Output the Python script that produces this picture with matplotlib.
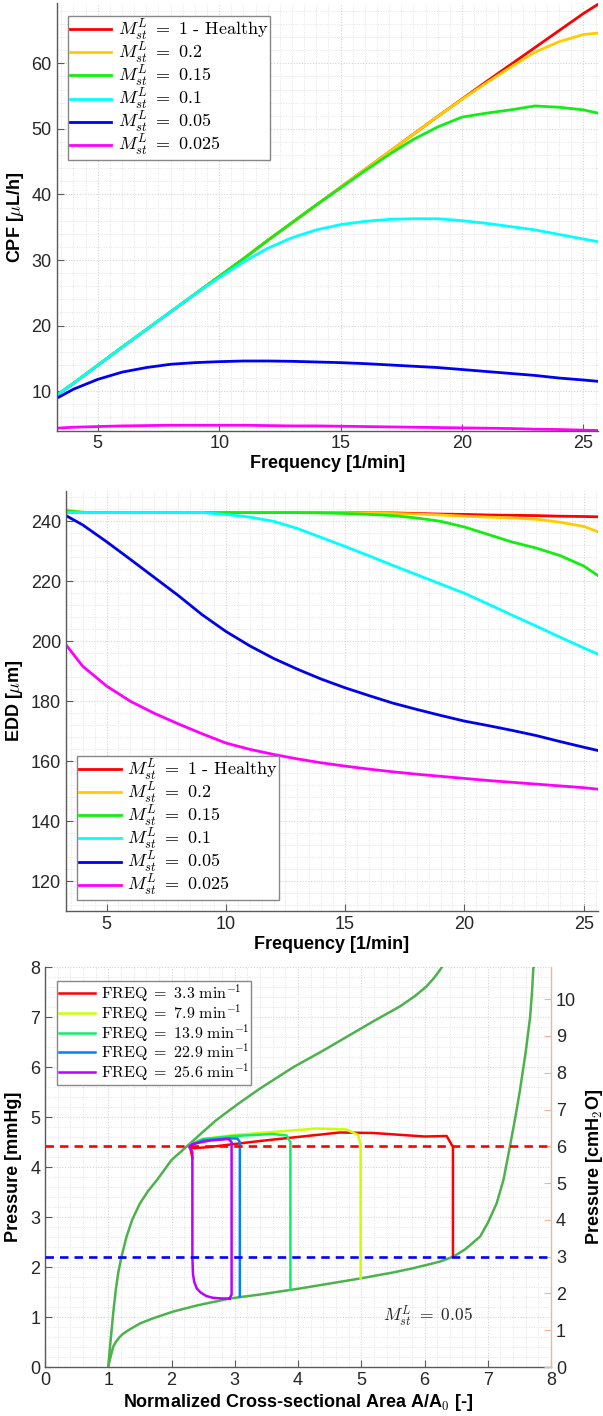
import matplotlib
matplotlib.use('Agg')
import matplotlib.pyplot as plt
from matplotlib.ticker import MultipleLocator

plt.rcParams['font.family'] = ['Liberation Sans', 'DejaVu Sans']
plt.rcParams['mathtext.fontset'] = 'cm'

# ---------------- data ----------------
freq = [3.3, 4, 5, 6, 7, 8, 9, 10, 11, 12, 13, 14, 15, 16, 17, 18, 19, 20, 21, 22, 23, 24, 25, 25.6]

series_labels = [r'$M_{st}^{L}\ =\ 1\ \text{- Healthy}$', r'$M_{st}^{L}\ =\ 0.2$', r'$M_{st}^{L}\ =\ 0.15$',
                 r'$M_{st}^{L}\ =\ 0.1$', r'$M_{st}^{L}\ =\ 0.05$', r'$M_{st}^{L}\ =\ 0.025$']
series_colors = ['#ff0000', '#ffcc00', '#11ee11', '#00ffff', '#0000f0', '#ff00ff']

cpf_healthy = [9.35, 11.2, 13.95, 16.7, 19.4, 22.1, 24.8, 27.5, 30.2, 33.0, 35.7, 38.4, 41.1, 43.8,
               46.5, 49.2, 51.9, 54.55, 57.2, 59.8, 62.4, 65.0, 67.6, 69.0]
cpf_02 = [9.35, 11.2, 13.95, 16.7, 19.4, 22.1, 24.8, 27.5, 30.2, 33.0, 35.7, 38.4, 41.1, 43.8,
          46.5, 49.2, 51.9, 54.5, 57.0, 59.4, 61.7, 63.3, 64.4, 64.6]
cpf_015 = [9.35, 11.2, 13.95, 16.7, 19.4, 22.1, 24.8, 27.5, 30.2, 33.0, 35.7, 38.4, 41.0, 43.6,
           46.1, 48.4, 50.3, 51.8, 52.4, 52.9, 53.5, 53.3, 52.9, 52.4]
cpf_01 = [9.35, 11.2, 13.95, 16.7, 19.4, 22.1, 24.8, 27.3, 29.7, 31.8, 33.4, 34.6, 35.4, 35.9,
          36.2, 36.3, 36.3, 36.0, 35.6, 35.1, 34.6, 33.9, 33.2, 32.8]
cpf_005 = [8.9, 10.3, 11.8, 12.9, 13.6, 14.1, 14.35, 14.5, 14.6, 14.6, 14.55, 14.45, 14.35, 14.2,
           14.0, 13.8, 13.6, 13.3, 13.0, 12.7, 12.4, 12.0, 11.7, 11.5]
cpf_0025 = [4.35, 4.5, 4.6, 4.7, 4.75, 4.8, 4.8, 4.8, 4.8, 4.75, 4.7, 4.7, 4.65, 4.6,
            4.55, 4.5, 4.45, 4.4, 4.35, 4.3, 4.2, 4.15, 4.05, 4.0]

edd_healthy = [242.9, 242.8, 242.8, 242.8, 242.8, 242.8, 242.8, 242.8, 242.8, 242.8, 242.8, 242.8, 242.8, 242.7,
               242.7, 242.5, 242.3, 242.2, 242.0, 241.9, 241.8, 241.6, 241.5, 241.4]
edd_02 = [243.8, 242.9, 242.8, 242.8, 242.8, 242.8, 242.8, 242.8, 242.8, 242.8, 242.8, 242.8, 242.8, 242.6,
          242.5, 242.3, 242.0, 241.6, 241.3, 241.0, 240.6, 239.6, 238.2, 236.4]
edd_015 = [243.3, 242.9, 242.8, 242.8, 242.8, 242.8, 242.8, 242.8, 242.8, 242.8, 242.8, 242.7, 242.5, 242.2,
           241.8, 241.0, 239.9, 238.0, 235.5, 233.0, 231.0, 228.5, 225.0, 221.8]
edd_01 = [242.8, 242.8, 242.8, 242.8, 242.8, 242.8, 242.8, 242.2, 241.3, 239.9, 237.5, 234.5, 231.5, 228.4,
          225.2, 222.1, 219.0, 215.9, 212.3, 208.6, 205.0, 201.3, 197.7, 195.6]
edd_005 = [241.8, 238.7, 233.1, 227.2, 221.2, 215.2, 208.8, 203.2, 198.4, 194.2, 190.6, 187.3, 184.4, 181.8,
           179.3, 177.2, 175.2, 173.3, 171.8, 170.2, 168.5, 166.5, 164.6, 163.5]
edd_0025 = [198.7, 191.6, 185.0, 179.9, 175.9, 172.4, 169.1, 166.0, 163.9, 162.2, 160.7, 159.4, 158.3, 157.3,
            156.4, 155.6, 154.9, 154.2, 153.5, 152.9, 152.3, 151.7, 151.1, 150.6]

cpf_series = [cpf_healthy, cpf_02, cpf_015, cpf_01, cpf_005, cpf_0025]
edd_series = [edd_healthy, edd_02, edd_015, edd_01, edd_005, edd_0025]

# tube law (green) curve: inflation and deflation branches
tube_up_area = [1.0, 1.02, 1.05, 1.08, 1.12, 1.16, 1.21, 1.29, 1.38, 1.5, 1.63, 1.77, 2.0, 2.24, 2.45, 2.71,
                3.05, 3.4, 3.93, 4.4, 4.82, 5.2, 5.61, 5.85, 6.03, 6.15, 6.25, 6.3]
tube_up_p = [0.0, 0.3, 0.7, 1.1, 1.55, 1.9, 2.21, 2.61, 2.95, 3.27, 3.52, 3.74, 4.14, 4.41, 4.65, 4.94,
             5.26, 5.57, 6.0, 6.33, 6.64, 6.92, 7.21, 7.42, 7.61, 7.78, 7.95, 8.05]
tube_dn_area = [1.0, 1.02, 1.05, 1.08, 1.12, 1.18, 1.24, 1.35, 1.5, 1.7, 2.03, 2.4, 2.92, 3.4, 4.03, 4.98,
                5.5, 5.8, 6.03, 6.25, 6.46, 6.65, 6.88, 7.0, 7.14, 7.25, 7.35, 7.43, 7.51, 7.6, 7.67, 7.7, 7.72, 7.75]
tube_dn_p = [0.0, 0.12, 0.27, 0.41, 0.5, 0.6, 0.67, 0.76, 0.87, 0.97, 1.11, 1.23, 1.37, 1.45, 1.57, 1.77,
             1.89, 1.97, 2.04, 2.11, 2.21, 2.36, 2.61, 2.88, 3.27, 3.75, 4.41, 4.95, 5.54, 6.3, 7.0, 7.5, 7.97, 8.1]

loop_labels = [r'$\mathrm{FREQ}\ =\ 3.3\ \mathrm{min}^{-1}$', r'$\mathrm{FREQ}\ =\ 7.9\ \mathrm{min}^{-1}$',
               r'$\mathrm{FREQ}\ =\ 13.9\ \mathrm{min}^{-1}$', r'$\mathrm{FREQ}\ =\ 22.9\ \mathrm{min}^{-1}$',
               r'$\mathrm{FREQ}\ =\ 25.6\ \mathrm{min}^{-1}$']
loop_colors = ['#ff0000', '#ccff00', '#11ee66', '#0080ff', '#bb00ff']

loop_33_area = [2.33, 2.30, 2.6, 3.4, 4.66, 5.19, 6.0, 6.35, 6.45, 6.45]
loop_33_p = [4.18, 4.37, 4.40, 4.52, 4.69, 4.68, 4.61, 4.62, 4.40, 2.21]
loop_79_area = [2.30, 2.5, 3.0, 3.6, 4.3, 4.77, 4.95, 4.99, 4.99]
loop_79_p = [4.45, 4.56, 4.64, 4.70, 4.77, 4.75, 4.64, 4.45, 1.77]
loop_139_area = [2.30, 2.5, 3.0, 3.6, 3.82, 3.88, 3.88]
loop_139_p = [4.45, 4.56, 4.62, 4.66, 4.63, 4.50, 1.55]
loop_229_area = [2.30, 2.5, 2.9, 3.04, 3.08, 3.08]
loop_229_p = [4.43, 4.53, 4.57, 4.57, 4.50, 1.41]
loop_256_area = [2.92, 2.95, 2.95, 2.90, 2.61, 2.33, 2.28, 2.33, 2.33, 2.34, 2.36, 2.40, 2.46, 2.55, 2.65, 2.8, 2.92]
loop_256_p = [1.37, 1.45, 4.50, 4.56, 4.53, 4.46, 4.40, 4.30, 2.2, 1.85, 1.7, 1.57, 1.49, 1.42, 1.385, 1.37, 1.37]

loops_area = [loop_33_area, loop_79_area, loop_139_area, loop_229_area, loop_256_area]
loops_p = [loop_33_p, loop_79_p, loop_139_p, loop_229_p, loop_256_p]

thresholds_cmh2o = [6, 3]
threshold_colors = ['#ff0000', '#0000ff']
mmhg_to_cmh2o = 1.3595
annot_text = r'$M_{st}^{L}\ =\ 0.05$'

# ---------------- figure ----------------
W, H = 603, 1416
fig = plt.figure(figsize=(W / 100, H / 100), dpi=100)

def px_axes(l, r, t, b):
    return fig.add_axes([l / W, 1 - b / H, (r - l) / W, (b - t) / H])

spine_col = '#5a5a5a'
tick_fs = 13
lab_fs = 13
leg_fs = 13
leg3_fs = 11.5

def style(ax):
    for s in ['top', 'right']:
        ax.spines[s].set_visible(False)
    for s in ['left', 'bottom']:
        ax.spines[s].set_color(spine_col)
        ax.spines[s].set_linewidth(1.0)
    ax.tick_params(which='both', direction='in', colors=spine_col, labelcolor='#262626', labelsize=tick_fs)
    ax.tick_params(which='major', length=5)
    ax.tick_params(which='minor', length=0)
    ax.grid(which='major', color='#d4d4d4', linestyle=(0, (1, 1.5)), linewidth=0.8)
    ax.grid(which='minor', color='#e4e4e4', linestyle=(0, (1, 1.5)), linewidth=0.7)
    ax.set_axisbelow(True)

def make_legend(ax, loc, anchor, fs, spacing, pad):
    leg = ax.legend(loc=loc, bbox_to_anchor=anchor, borderaxespad=0, fontsize=fs,
                    frameon=True, fancybox=False, edgecolor='#888888', framealpha=1,
                    handlelength=2.3, handletextpad=0.35, labelspacing=spacing, borderpad=pad)
    leg.get_frame().set_linewidth(1.0)
    return leg

# Panel 1: CPF
ax1 = px_axes(56.5, 598, 3, 430.5)
for y, c, lab in zip(cpf_series, series_colors, series_labels):
    ax1.plot(freq, y, color=c, lw=2.0, label=lab)
ax1.set_xlim(3.3, 25.6)
ax1.set_ylim(4.0, 69.2)
ax1.xaxis.set_major_locator(MultipleLocator(5))
ax1.xaxis.set_minor_locator(MultipleLocator(0.5))
ax1.yaxis.set_major_locator(MultipleLocator(10))
ax1.yaxis.set_minor_locator(MultipleLocator(2))
style(ax1)
ax1.set_xlabel('Frequency [1/min]', fontsize=lab_fs, fontweight='bold', labelpad=2)
ax1.set_ylabel(r'CPF [$\mu$L/h]', fontsize=lab_fs, fontweight='bold', labelpad=4)
make_legend(ax1, 'upper left', (0.021, 0.97), leg_fs, -0.11, 0.1)

# Panel 2: EDD
ax2 = px_axes(66, 598, 491, 911)
for y, c, lab in zip(edd_series, series_colors, series_labels):
    ax2.plot(freq, y, color=c, lw=2.0, label=lab)
ax2.set_xlim(3.3, 25.6)
ax2.set_ylim(110, 250)
ax2.xaxis.set_major_locator(MultipleLocator(5))
ax2.xaxis.set_minor_locator(MultipleLocator(0.5))
ax2.yaxis.set_major_locator(MultipleLocator(20))
ax2.yaxis.set_minor_locator(MultipleLocator(4))
style(ax2)
ax2.set_xlabel('Frequency [1/min]', fontsize=lab_fs, fontweight='bold', labelpad=2)
ax2.set_ylabel(r'EDD [$\mu$m]', fontsize=lab_fs, fontweight='bold', labelpad=4)
make_legend(ax2, 'lower left', (0.021, 0.026), leg_fs, -0.11, 0.1)

# Panel 3: pressure-area loops
ax3 = px_axes(45, 551, 967, 1367)
ax3.plot(tube_up_area, tube_up_p, color='#4cb34c', lw=1.8, zorder=2)
ax3.plot(tube_dn_area, tube_dn_p, color='#4cb34c', lw=1.8, zorder=2)
for a, p, c, lab in zip(loops_area, loops_p, loop_colors, loop_labels):
    ax3.plot(a, p, color=c, lw=1.8, label=lab, zorder=3)
ax3.set_xlim(0, 8)
ax3.set_ylim(0, 8)
ax3.xaxis.set_major_locator(MultipleLocator(1))
ax3.xaxis.set_minor_locator(MultipleLocator(0.2))
ax3.yaxis.set_major_locator(MultipleLocator(1))
ax3.yaxis.set_minor_locator(MultipleLocator(0.2))
style(ax3)
ax3.set_xlabel(r'Normalized Cross-sectional Area A/A$_{\mathsf{0}}$ [-]', fontsize=lab_fs, fontweight='bold', labelpad=2)
ax3.set_ylabel('Pressure [mmHg]', fontsize=lab_fs, fontweight='bold', labelpad=6)
ax3.text(5.35, 1.02, annot_text, fontsize=12.5, va='center', ha='left', color='#262626')
make_legend(ax3, 'upper left', (0.023, 0.966), leg3_fs, -0.1, 0.12)

ax3r = ax3.twinx()
ax3r.set_ylim(0, 8 * mmhg_to_cmh2o)
ax3r.yaxis.set_major_locator(MultipleLocator(1))
for s in ['top', 'left', 'bottom']:
    ax3r.spines[s].set_visible(False)
ax3r.spines['right'].set_color('#f2b49c')
ax3r.spines['right'].set_linewidth(1.0)
ax3r.tick_params(direction='in', length=5, colors='#f2b49c', labelcolor='#262626', labelsize=tick_fs)
for yv, c in zip(thresholds_cmh2o, threshold_colors):
    ax3r.axhline(yv, color=c, lw=1.9, linestyle=(0, (3.2, 2.3)), zorder=4)
ax3r.set_ylabel(r'Pressure [cmH$_{\mathsf{2}}$O]', fontsize=lab_fs, fontweight='bold', labelpad=6)

fig.savefig('out.png', dpi=100)
